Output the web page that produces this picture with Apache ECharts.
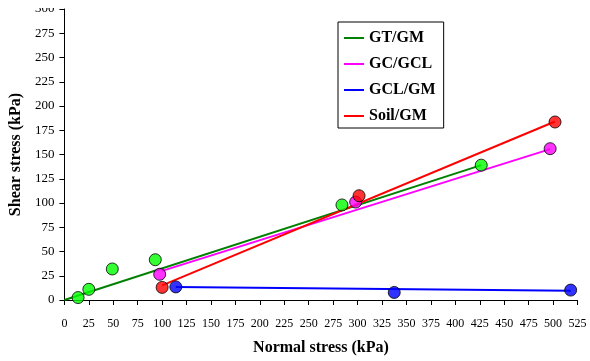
<!DOCTYPE html>
<html>
<head>
<meta charset="utf-8">
<script src="https://cdn.jsdelivr.net/npm/echarts@6/dist/echarts.min.js"></script>
<style>
  html, body { margin: 0; padding: 0; background: #fff; }
  #chart { width: 590px; height: 361px; }
</style>
</head>
<body>
<div id="chart"></div>
<script>
// Measured interface shear tests: normal stress (kPa) vs shear stress (kPa)
const seriesNames = ['GT/GM', 'GC/GCL', 'GCL/GM', 'Soil/GM'];

const gtgmX   = [14, 25, 49, 93, 284, 426.5];
const gtgmY   = [2.5, 11, 32, 41.5, 98, 139];
const gcgclX  = [97.5, 298, 497];
const gcgclY  = [26.5, 101, 156];
const gclgmX  = [114, 337.5, 518];
const gclgmY  = [13.5, 7.8, 10.2];
const soilgmX = [100, 301.5, 502];
const soilgmY = [13, 107.5, 183.5];

// Fitted failure envelopes: [normal stress, shear stress] at each end
const gtgmFitX   = [0, 426.5];
const gtgmFitY   = [0, 139];
const gcgclFitX  = [100, 497];
const gcgclFitY  = [30, 155.5];
const gclgmFitX  = [114, 518];
const gclgmFitY  = [13.3, 9.5];
const soilgmFitX = [100, 502];
const soilgmFitY = [15, 184];

const xTicks = { min: 0, max: 525, step: 25 };
const yTicks = { min: 0, max: 300, step: 25 };

const lineColors   = ['#008000', '#ff00ff', '#0000ff', '#ff0000'];
const markerColors = ['#00ff00', '#ff00ff', '#0000ff', '#ff0000'];

const pairs = (xs, ys) => xs.map((x, i) => [x, ys[i]]);

const fits = [
  pairs(gtgmFitX, gtgmFitY),
  pairs(gcgclFitX, gcgclFitY),
  pairs(gclgmFitX, gclgmFitY),
  pairs(soilgmFitX, soilgmFitY)
];
const points = [
  pairs(gtgmX, gtgmY),
  pairs(gcgclX, gcgclY),
  pairs(gclgmX, gclgmY),
  pairs(soilgmX, soilgmY)
];

const serif = '"Liberation Serif", "Times New Roman", serif';

const series = [];
seriesNames.forEach((name, i) => {
  series.push({
    name: name,
    type: 'line',
    data: fits[i],
    symbol: 'none',
    lineStyle: { color: lineColors[i], width: 2 },
    itemStyle: { color: lineColors[i] },
    z: 2,
    animation: false
  });
});
seriesNames.forEach((name, i) => {
  series.push({
    name: name + ' tests',
    type: 'scatter',
    data: points[i],
    symbol: 'circle',
    symbolSize: 12,
    itemStyle: { color: markerColors[i], borderColor: '#000', borderWidth: 1 },
    z: 3,
    animation: false
  });
});

const chart = echarts.init(document.getElementById('chart'), null, { renderer: 'canvas' });
chart.setOption({
  backgroundColor: '#fff',
  animation: false,
  grid: { left: 63, right: 12.5, top: 9, bottom: 58.3, containLabel: false },
  xAxis: {
    type: 'value',
    min: xTicks.min, max: xTicks.max, interval: xTicks.step,
    name: 'Normal stress (kPa)',
    nameLocation: 'middle',
    nameGap: 40,
    nameTextStyle: { fontFamily: serif, fontWeight: 'bold', fontSize: 16, color: '#000' },
    axisLine: { show: true, onZero: false, lineStyle: { color: '#000', width: 1 } },
    axisTick: { show: true, inside: false, length: 5, lineStyle: { color: '#000' } },
    axisLabel: { interval: 0, margin: 18, fontFamily: serif, fontSize: 12, color: '#000' },
    splitLine: { show: false }
  },
  yAxis: {
    type: 'value',
    min: yTicks.min, max: yTicks.max, interval: yTicks.step,
    name: 'Shear stress (kPa)',
    nameLocation: 'middle',
    nameGap: 33,
    nameTextStyle: { fontFamily: serif, fontWeight: 'bold', fontSize: 16, color: '#000' },
    axisLine: { show: true, onZero: false, lineStyle: { color: '#000', width: 1 } },
    axisTick: { show: true, inside: false, length: 5, lineStyle: { color: '#000' } },
    axisLabel: { margin: 10, fontFamily: serif, fontSize: 13, color: '#000' },
    splitLine: { show: false }
  },
  legend: {
    data: seriesNames,
    orient: 'vertical',
    left: 338,
    top: 22,
    padding: [8, 8, 4, 6],
    icon: 'path://M0,0 L20,0 L20,2 L0,2 Z',
    itemWidth: 20,
    itemHeight: 14,
    itemGap: 10,
    backgroundColor: '#fff',
    borderColor: '#000',
    borderWidth: 1,
    borderRadius: 0,
    textStyle: { fontFamily: serif, fontWeight: 'bold', fontSize: 16, color: '#000' },
    selectedMode: false
  },
  graphic: [{
    type: 'rect',
    left: 0, top: 0,
    shape: { width: 590, height: 8 },
    style: { fill: '#fff' },
    z: 100
  }],
  series: series
});
</script>
</body>
</html>
